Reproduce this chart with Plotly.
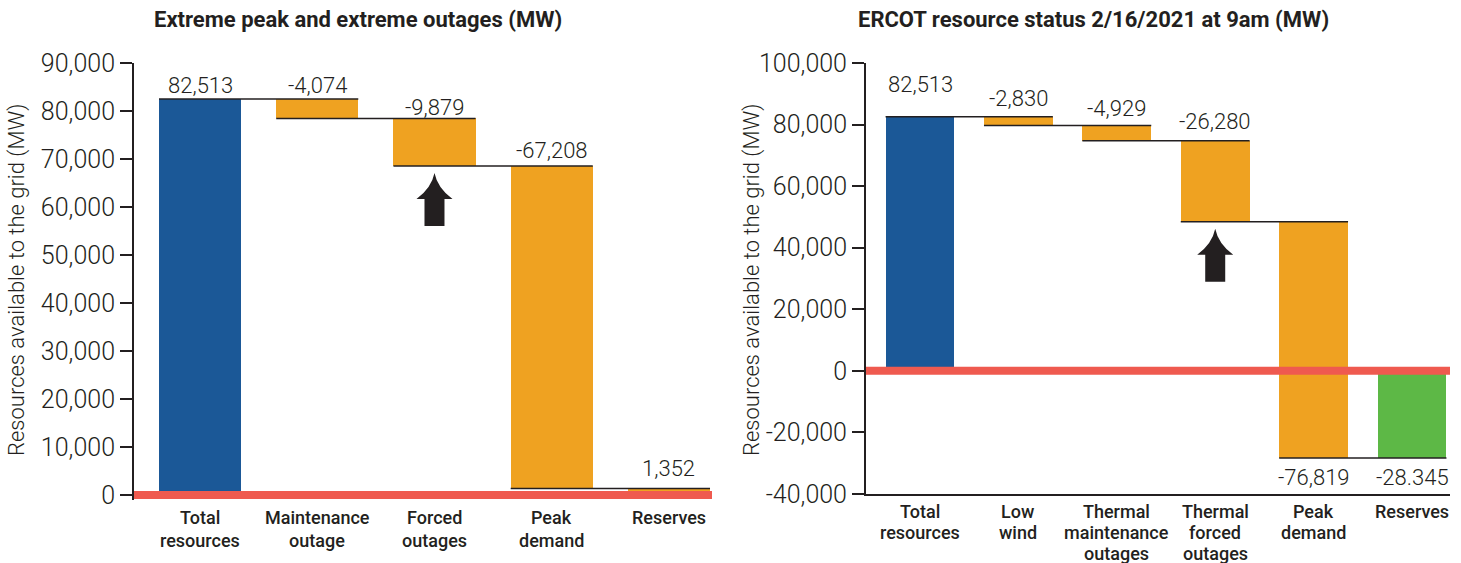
import plotly.graph_objects as go

W, H = 1461, 563

# ---------------- data ----------------
left_categories = ["Total<br>resources", "Maintenance<br>outage", "Forced<br>outages", "Peak<br>demand", "Reserves"]
left_values = [82513, -4074, -9879, -67208, 1352]
left_kinds = ["total", "relative", "relative", "relative", "total"]
left_value_labels = ["82,513", "-4,074", "-9,879", "-67,208", "1,352"]
left_ticks = [0, 10000, 20000, 30000, 40000, 50000, 60000, 70000, 80000, 90000]

right_categories = ["Total<br>resources", "Low<br>wind", "Thermal<br>maintenance<br>outages",
                    "Thermal<br>forced<br>outages", "Peak<br>demand", "Reserves"]
right_values = [82513, -2830, -4929, -26280, -76819, -28345]
right_kinds = ["total", "relative", "relative", "relative", "relative", "total"]
right_value_labels = ["82,513", "-2,830", "-4,929", "-26,280", "-76,819", "-28.345"]
right_ticks = [-40000, -20000, 0, 20000, 40000, 60000, 80000, 100000]

# ---------------- style ----------------
BLUE = "#1b5897"
ORANGE = "#efa221"
GREEN = "#5db846"
RED = "#ef5a4f"
INK = "#231f20"
FONT = "Roboto, Arial, sans-serif"
BAR_W = 0.70

left_colors = [BLUE, ORANGE, ORANGE, ORANGE, ORANGE]
right_colors = [BLUE, ORANGE, ORANGE, ORANGE, ORANGE, GREEN]
left_label_shift = [13, 13, 11, 15, 20]
right_label_shift = [32, 18, 17, 19, -19, -19]


def floating(values, kinds):
    bases, heights, levels = [], [], []
    running = 0
    for v, k in zip(values, kinds):
        if k == "total":
            running = v
            bases.append(min(0, v))
            heights.append(abs(v))
        else:
            start = running
            running = running + v
            bases.append(min(start, running))
            heights.append(abs(v))
        levels.append(running)
    return bases, heights, levels


fig = go.Figure()
shapes = []
annotations = []


def add_panel(xa, ya, cats, values, kinds, labels, colors, shifts, line_spacing, first_line_px, arrow_idx):
    bases, heights, levels = floating(values, kinds)
    xs = list(range(len(cats)))
    fig.add_trace(go.Bar(x=xs, y=heights, base=bases, width=BAR_W,
                         marker=dict(color=colors, line=dict(width=0)),
                         xaxis=xa, yaxis=ya, hoverinfo="skip", showlegend=False))
    xref, yref = xa, ya
    # connectors
    for i in range(len(cats) - 1):
        lvl = levels[i]
        shapes.append(dict(type="line", xref=xref, yref=yref,
                           x0=i - BAR_W / 2, x1=i + 1 + BAR_W / 2, y0=lvl, y1=lvl,
                           line=dict(color=INK, width=1.5), layer="above"))
    # value labels
    for i, (lab, b, h, s) in enumerate(zip(labels, bases, heights, shifts)):
        yv = b + h if s > 0 else b
        annotations.append(dict(x=i, y=yv, xref=xref, yref=yref, text=lab, showarrow=False,
                                yanchor="middle", yshift=s,
                                font=dict(family=FONT, size=22, color=INK, weight=300)))
    # category labels, line by line
    for i, c in enumerate(cats):
        for j, part in enumerate(c.split("<br>")):
            annotations.append(dict(x=i, y=1 - (first_line_px + j * line_spacing) / H,
                                    xref=xref, yref="paper", text=part, showarrow=False,
                                    yanchor="middle",
                                    font=dict(family=FONT, size=18, color=INK, weight=500)))
    # zero line
    shapes.append(dict(type="line", xref=xref + " domain", yref=yref, x0=0, x1=1, y0=0, y1=0,
                       line=dict(color=RED, width=8), layer="above"))
    # arrow under bar
    lvl = levels[arrow_idx]
    shapes.append(dict(type="path", xref=xref, yref=yref, xsizemode="pixel", ysizemode="pixel",
                       xanchor=arrow_idx, yanchor=lvl,
                       path="M 0,-7 Q 3,-22 18,-33 L 10,-33 L 10,-60 L -10,-60 L -10,-33 L -18,-33 Q -3,-22 0,-7 Z",
                       fillcolor=INK, line=dict(width=0), layer="above"))


add_panel("x", "y", left_categories, left_values, left_kinds, left_value_labels, left_colors,
          left_label_shift, 23, 517, 2)
add_panel("x2", "y2", right_categories, right_values, right_kinds, right_value_labels, right_colors,
          right_label_shift, 21, 511, 3)

# axis titles and panel titles
for xp in (17, 752):
    annotations.append(dict(x=xp / W, y=1 - 280 / H, xref="paper", yref="paper", textangle=-90,
                            text="Resources available to the grid (MW)", showarrow=False,
                            xanchor="center", yanchor="middle",
                            font=dict(family=FONT, size=22, color=INK, weight=300)))
annotations.append(dict(x=358 / W, y=1 - 20 / H, xref="paper", yref="paper",
                        text="<b>Extreme peak and extreme outages (MW)</b>", showarrow=False,
                        xanchor="center", yanchor="middle",
                        font=dict(family=FONT, size=22, color=INK)))
annotations.append(dict(x=1093 / W, y=1 - 20 / H, xref="paper", yref="paper",
                        text="<b>ERCOT resource status 2/16/2021 at 9am (MW)</b>", showarrow=False,
                        xanchor="center", yanchor="middle",
                        font=dict(family=FONT, size=22, color=INK)))

yaxis_common = dict(showgrid=False, zeroline=False, showline=True, linecolor=INK, linewidth=2,
                    ticks="outside", ticklen=12, tickwidth=1.5, tickcolor=INK,
                    tickfont=dict(family=FONT, size=25, color=INK, weight=300),
                    automargin=False)
xaxis_common = dict(showgrid=False, zeroline=False, showticklabels=False, ticks="", automargin=False)

fig.update_layout(
    width=W, height=H,
    margin=dict(l=0, r=0, t=0, b=0),
    paper_bgcolor="white", plot_bgcolor="white",
    bargap=0,
    xaxis=dict(domain=[134 / W, 712 / W], range=[-0.563, 4.367], showline=False, **xaxis_common),
    yaxis=dict(domain=[1 - 499.8 / H, 1 - 63 / H], range=[-1000, 90000], tickvals=left_ticks,
               ticktext=[f"{v:,}" for v in left_ticks], **yaxis_common),
    xaxis2=dict(domain=[866 / W, 1450 / W], range=[-0.549, 5.386], showline=True, linecolor=INK,
                linewidth=2, anchor="y2", **xaxis_common),
    yaxis2=dict(domain=[1 - 494 / H, 1 - 63 / H], range=[-40000, 100000], tickvals=right_ticks,
                ticktext=[f"{v:,}" for v in right_ticks], anchor="x2", **yaxis_common),
    shapes=shapes,
    annotations=annotations,
)

fig.write_html("out.html", config={"displayModeBar": False},
               post_script="document.body.style.margin='0';document.body.style.overflow='hidden';")
